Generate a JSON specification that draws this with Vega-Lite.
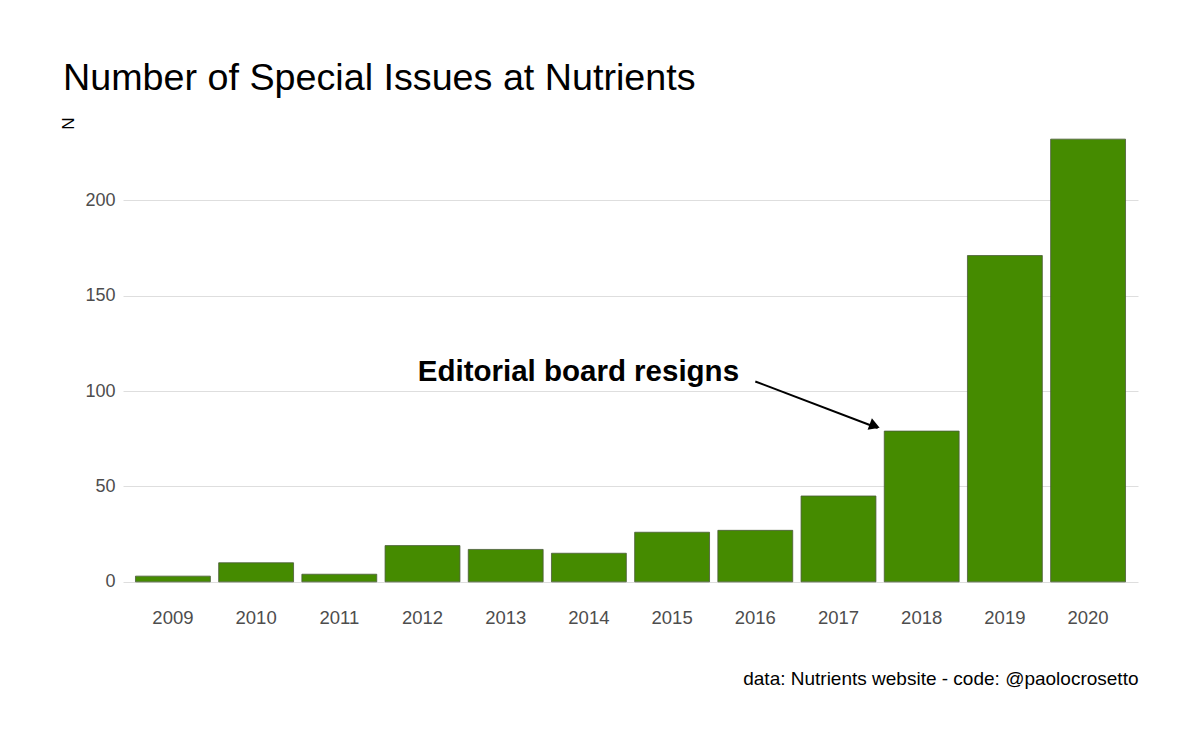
{
  "$schema": "https://vega.github.io/schema/vega-lite/v6.json",
  "width": 1015,
  "height": 487,
  "autosize": {"type": "none"},
  "padding": {"left": 123, "top": 117, "right": 62, "bottom": 146},
  "background": "white",
  "config": {
    "view": {"stroke": null},
    "font": "Liberation Sans",
    "axis": {"labelFont": "Liberation Sans", "titleFont": "Liberation Sans"}
  },
  "title": {
    "text": "Number of Special Issues at Nutrients",
    "anchor": "start",
    "frame": "group",
    "dx": -60,
    "offset": 19,
    "fontSize": 37.7,
    "fontWeight": "normal",
    "color": "#000000",
    "font": "Liberation Sans"
  },
  "datasets": {
    "issues": [
      {"year": "2009", "n": 3},
      {"year": "2010", "n": 10},
      {"year": "2011", "n": 4},
      {"year": "2012", "n": 19},
      {"year": "2013", "n": 17},
      {"year": "2014", "n": 15},
      {"year": "2015", "n": 26},
      {"year": "2016", "n": 27},
      {"year": "2017", "n": 45},
      {"year": "2018", "n": 79},
      {"year": "2019", "n": 171},
      {"year": "2020", "n": 232}
    ],
    "label": [{"year": "2014", "n": 110, "text": "Editorial board resigns"}],
    "arrow": [{"year": "2016", "year2": "2018", "n": 105, "n2": 80.6}],
    "head": [{"year": "2018", "n": 81.8}]
  },
  "layer": [
    {
      "data": {"name": "issues"},
      "mark": {"type": "bar", "fill": "#458B00", "stroke": "#4a5a3a", "strokeWidth": 0.8},
      "encoding": {
        "x": {
          "field": "year",
          "type": "ordinal",
          "scale": {"paddingInner": 0.1, "paddingOuter": 0.15},
          "axis": {
            "title": "data: Nutrients website - code: @paolocrosetto",
            "titleAnchor": "end",
            "titleAlign": "right",
            "titleBaseline": "alphabetic",
            "titleX": 1015,
            "titleY": 80,
            "titleFontSize": 19,
            "titleFontWeight": "normal",
            "titleColor": "#000000",
            "labelAngle": 0,
            "labelFontSize": 18.5,
            "labelColor": "#4D4D4D",
            "labelPadding": 4,
            "ticks": false,
            "domain": false,
            "grid": false
          }
        },
        "y": {
          "field": "n",
          "type": "quantitative",
          "scale": {"domain": [-11.6, 243.6], "nice": false, "zero": false},
          "axis": {
            "title": "N",
            "titleAngle": 270,
            "titleAlign": "right",
            "titleBaseline": "middle",
            "titleX": -55,
            "titleY": 0,
            "titleFontSize": 17,
            "titleFontWeight": "normal",
            "titleColor": "#000000",
            "values": [0, 50, 100, 150, 200],
            "labelFontSize": 18,
            "labelColor": "#4D4D4D",
            "labelPadding": 8,
            "ticks": false,
            "domain": false,
            "grid": true,
            "gridColor": "#DEDEDE",
            "gridWidth": 1
          }
        },
        "y2": {"datum": 0}
      }
    },
    {
      "data": {"name": "label"},
      "mark": {"type": "text", "fontSize": 29.5, "fontWeight": "bold", "align": "center", "baseline": "middle", "xOffset": -10.5, "color": "#000000"},
      "encoding": {
        "x": {"field": "year", "type": "ordinal"},
        "y": {"field": "n", "type": "quantitative"},
        "text": {"field": "text"}
      }
    },
    {
      "data": {"name": "arrow"},
      "mark": {"type": "rule", "color": "#000000", "strokeWidth": 2, "x2Offset": -44},
      "encoding": {
        "x": {"field": "year", "type": "ordinal"},
        "x2": {"field": "year2"},
        "y": {"field": "n", "type": "quantitative"},
        "y2": {"field": "n2"}
      }
    },
    {
      "data": {"name": "head"},
      "mark": {"type": "point", "shape": "triangle-right", "filled": true, "color": "#000000", "opacity": 1, "size": 150, "angle": 20.6, "xOffset": -47},
      "encoding": {
        "x": {"field": "year", "type": "ordinal"},
        "y": {"field": "n", "type": "quantitative"}
      }
    }
  ]
}
